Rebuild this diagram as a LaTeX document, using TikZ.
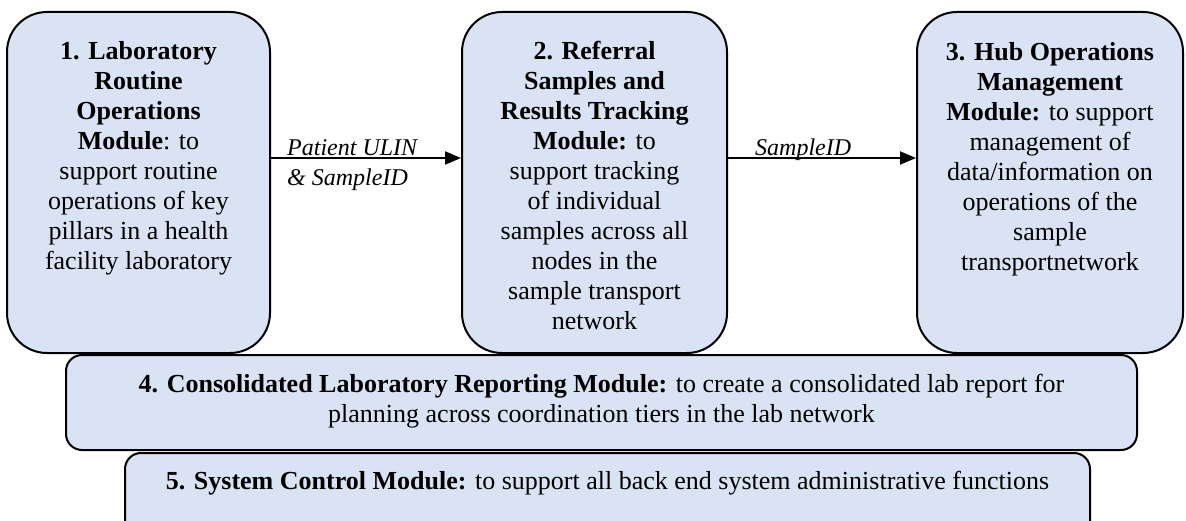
\documentclass[tikz,border=0pt]{standalone}
\usepackage{fontspec}
\setmainfont{Liberation Serif}
\usetikzlibrary{positioning,arrows.meta}
\definecolor{modfill}{RGB}{218,227,243}

\begin{document}
\begin{tikzpicture}[x=1pt, y=-1pt,
  every node/.style={font=\fontsize{26}{30}\selectfont},
  modbox/.style={rectangle, rounded corners=40pt, draw, line width=2pt,
                 fill=modfill, inner sep=0pt},
  barbox/.style={modbox, rounded corners=16pt},
  modtext/.style={align=center, inner sep=0pt},
  flowlbl/.style={font=\fontsize{24}{30}\selectfont\itshape, align=left,
                  inner sep=0pt, anchor=north west},
  arr/.style={-{Triangle[length=16pt,width=13pt]}, line width=2pt}
]
\clip[use as bounding box] (0,0) rectangle (1186,521);

\node[modbox, minimum width=263pt, minimum height=341pt] (lab) at (138.5,182.5) {};
\node[modbox, minimum width=265pt, minimum height=341pt] (ref) at (594.5,182.5) {};
\node[modbox, minimum width=266pt, minimum height=341pt] (hub) at (1050,182.5) {};
\node[barbox, minimum width=1071pt, minimum height=95pt]  (rep) at (601.5,402.5) {};
\node[barbox, minimum width=965pt, minimum height=110pt]  (sys) at (607.5,508) {};

\node[modtext, below=30pt of lab.north] (labtxt)
  {\textbf{1. Laboratory}\\\textbf{Routine}\\\textbf{Operations}\\\textbf{Module}: to\\
   support routine\\operations of key\\pillars in a health\\facility laboratory};
\node[modtext, below=30pt of ref.north] (reftxt)
  {\textbf{2. Referral}\\\textbf{Samples and}\\\textbf{Results Tracking}\\\textbf{Module:} to\\
   support tracking\\of individual\\samples across all\\nodes in the\\sample transport\\network};
\node[modtext, below=31pt of hub.north] (hubtxt)
  {\textbf{3. Hub Operations}\\\textbf{Management}\\\textbf{Module:} to support\\management of\\
   data/information on\\operations of the\\sample\\transportnetwork};
\node[modtext, below=20pt of rep.north] (reptxt)
  {\textbf{4. Consolidated Laboratory Reporting Module:} to create a consolidated lab report for\\
   planning across coordination tiers in the lab network};
\node[modtext, below=19pt of sys.north] (systxt)
  {\textbf{5. System Control Module:} to support all back end system administrative functions};

\node[flowlbl] (ulin) at (287,139) {Patient ULIN\\\& SampleID};
\node[flowlbl] (sid)  at (755,139) {SampleID};

\draw[arr] ([yshift=24.5pt]lab.east) -- ([yshift=24.5pt]ref.west);
\draw[arr] ([yshift=24.5pt]ref.east) -- ([yshift=24.5pt]hub.west);

\end{tikzpicture}
\end{document}
